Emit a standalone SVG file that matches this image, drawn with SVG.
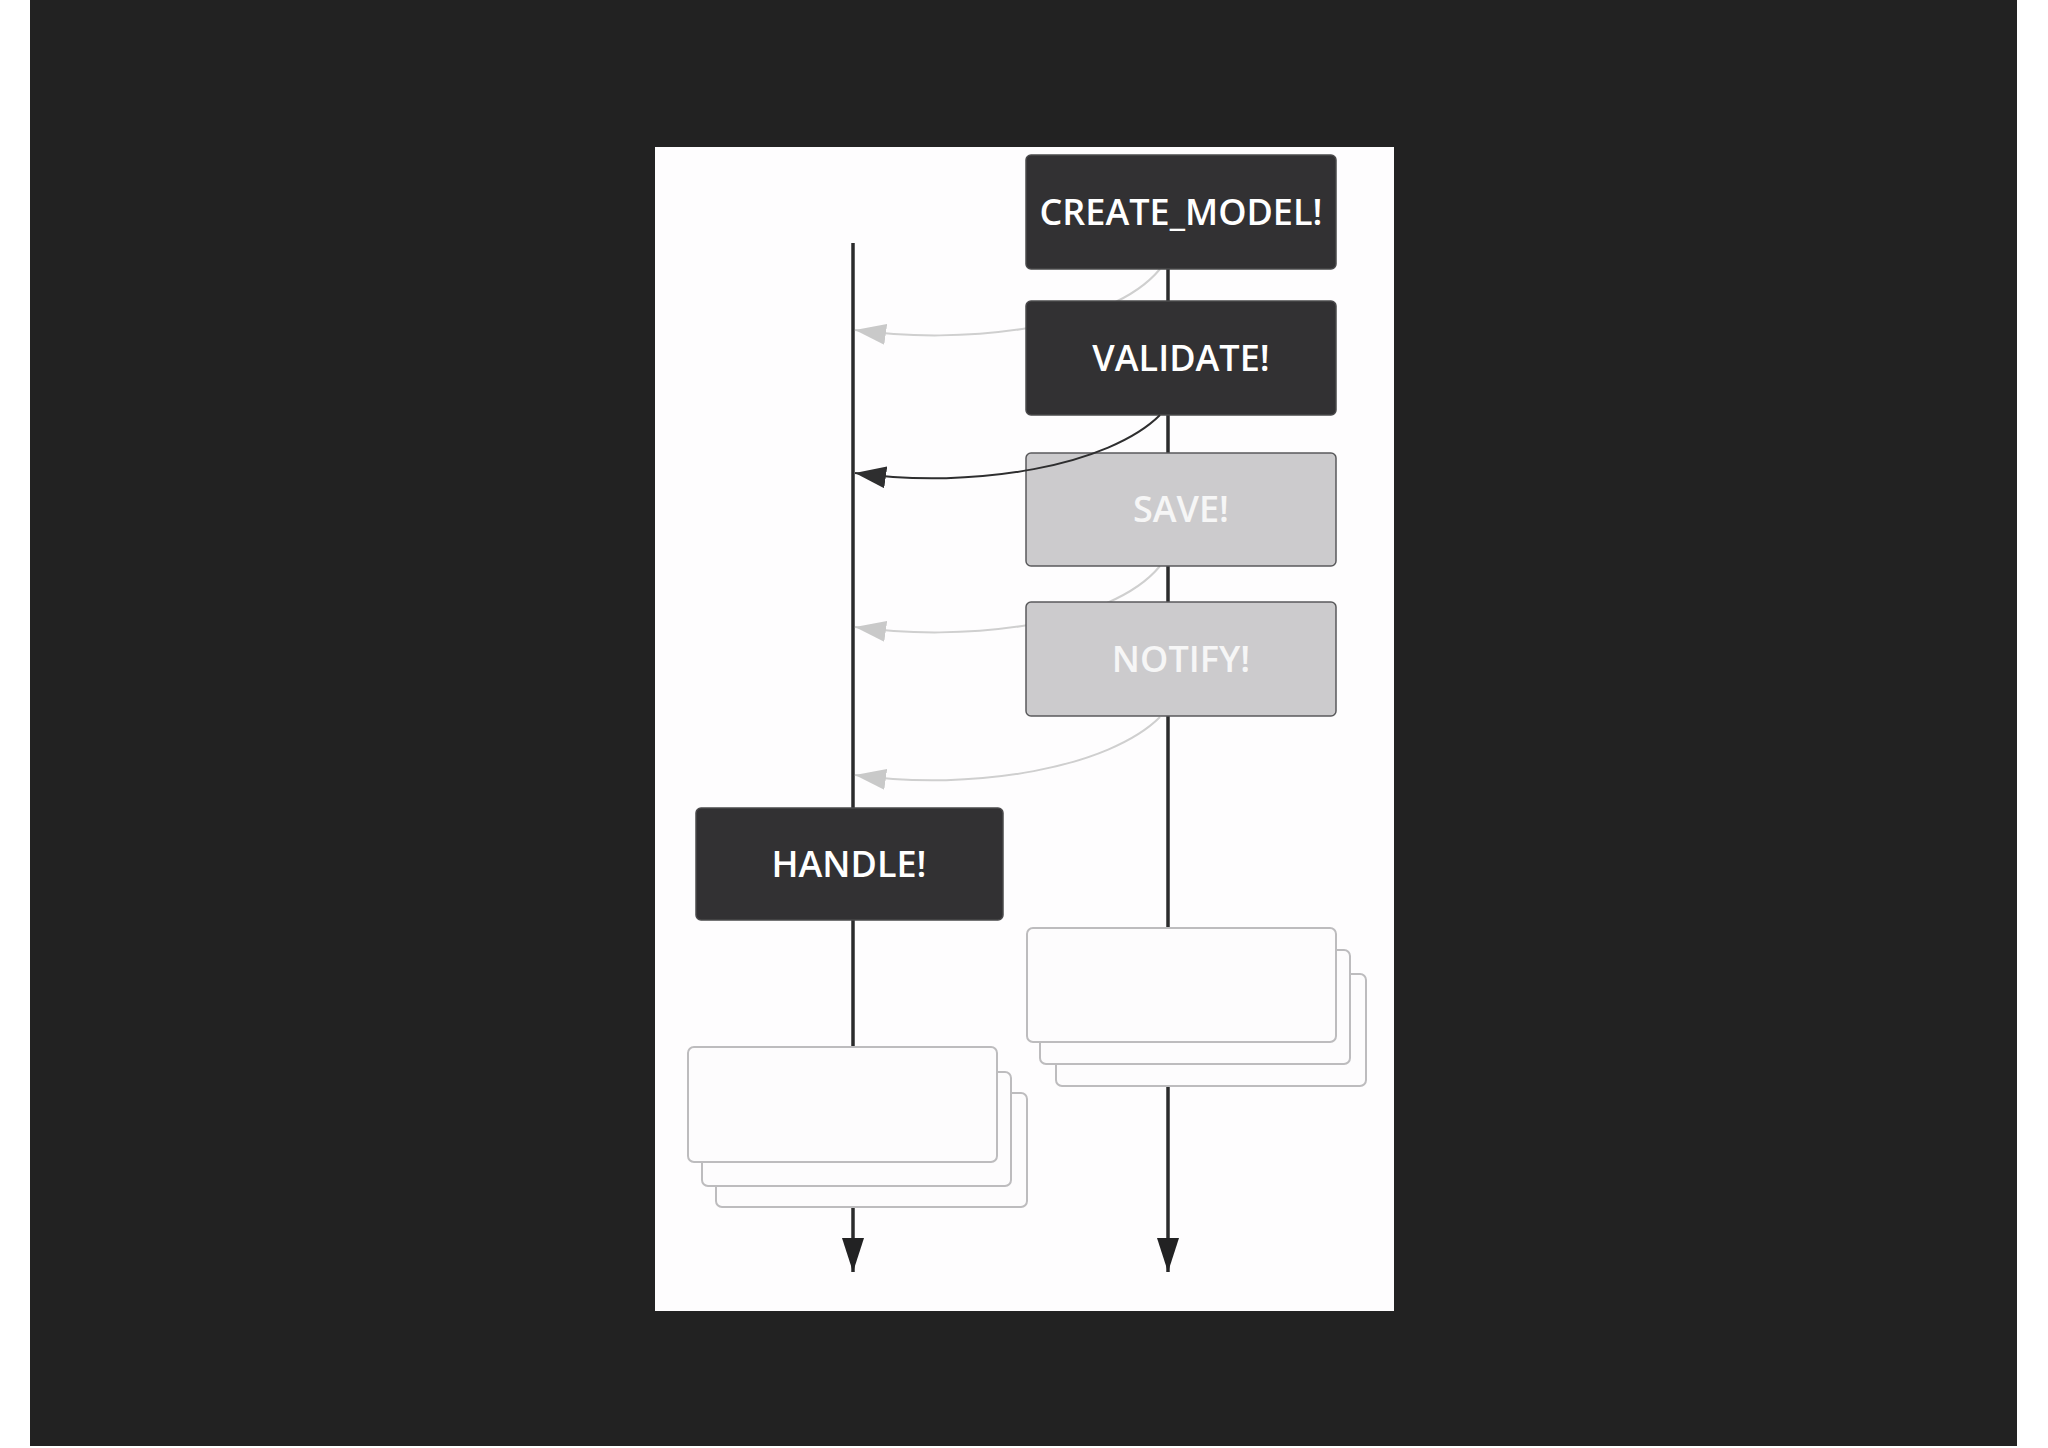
<svg xmlns="http://www.w3.org/2000/svg" width="2048" height="1448" viewBox="0 0 2048 1448">
  <defs>
    <style>
      .dark rect { fill: #323133; stroke: #4a494b; stroke-width: 1.5; }
      .gray rect { fill: #cccbcd; stroke: #5a5a5c; stroke-width: 1.5; }
      .stack rect { fill: #fdfcfd; stroke: #bdbcbe; stroke-width: 2; }
      .lbl { font-family: "Open Sans", "Liberation Sans", sans-serif; font-size: 36px; font-weight: 600; text-anchor: middle; }
      .dark .lbl { fill: #ffffff; }
      .gray .lbl { fill: #f6f6f6; }
      .life { fill: none; stroke: #2b2b2c; stroke-width: 3.5; }
      .ret-light { fill: none; stroke: #cfcfcf; stroke-width: 2; }
      .ret-dark { fill: none; stroke: #2e2e2f; stroke-width: 2; }
    </style>
    <marker id="ah-light" markerUnits="userSpaceOnUse" markerWidth="31" markerHeight="21" refX="31" refY="10.5" orient="auto">
      <path d="M0,0 L31,10.5 L0,21 z" fill="#c9c9c9"/>
    </marker>
    <marker id="ah-dark" markerUnits="userSpaceOnUse" markerWidth="31" markerHeight="22" refX="31" refY="11" orient="auto">
      <path d="M0,0 L31,11 L0,22 z" fill="#2e2e2f"/>
    </marker>
    <marker id="ah-end" markerUnits="userSpaceOnUse" markerWidth="34" markerHeight="22" refX="34" refY="11" orient="auto">
      <path d="M0,0 L34,11 L0,22 z" fill="#222223"/>
    </marker>
  </defs>

  <rect x="0" y="0" width="2048" height="1448" fill="#ffffff"/>
  <rect x="30" y="0" width="1987" height="1446" fill="#222222"/>
  <rect x="655" y="147" width="739" height="1164" fill="#fefdfe"/>

  <g id="lifelines">
    <path class="life" d="M853,243 L853,1272" marker-end="url(#ah-end)"/>
    <path class="life" d="M1168,269 L1168,1272" marker-end="url(#ah-end)"/>
  </g>

  <g id="connectors-back">
    <path class="ret-light" d="M1160,269 C1110,330 960,345 855,330" marker-end="url(#ah-light)"/>
    <path class="ret-light" d="M1160,566 C1110,627 960,642 855,627" marker-end="url(#ah-light)"/>
    <path class="ret-light" d="M1160,717 C1110,767 975,792 855,775" marker-end="url(#ah-light)"/>
  </g>

  <g id="node-create-model" class="dark">
    <rect x="1026" y="155" width="310" height="114" rx="5"/>
    <text class="lbl" x="1181" y="225">CREATE_MODEL!</text>
  </g>
  <g id="node-validate" class="dark">
    <rect x="1026" y="301" width="310" height="114" rx="5"/>
    <text class="lbl" x="1181" y="371">VALIDATE!</text>
  </g>
  <g id="node-save" class="gray">
    <rect x="1026" y="453" width="310" height="113" rx="5"/>
    <text class="lbl" x="1181" y="522">SAVE!</text>
  </g>
  <g id="node-notify" class="gray">
    <rect x="1026" y="602" width="310" height="114" rx="5"/>
    <text class="lbl" x="1181" y="672">NOTIFY!</text>
  </g>
  <g id="node-handle" class="dark">
    <rect x="696" y="808" width="307" height="112" rx="5"/>
    <text class="lbl" x="849" y="877">HANDLE!</text>
  </g>

  <g id="stack-left" class="stack">
    <rect x="716" y="1093" width="311" height="114" rx="6"/>
    <rect x="702" y="1072" width="309" height="114" rx="6"/>
    <rect x="688" y="1047" width="309" height="115" rx="6"/>
  </g>
  <g id="stack-right" class="stack">
    <rect x="1056" y="974" width="310" height="112" rx="6"/>
    <rect x="1040" y="950" width="310" height="114" rx="6"/>
    <rect x="1027" y="928" width="309" height="114" rx="6"/>
  </g>

  <g id="connectors">
    <path class="ret-dark" d="M1160,415 C1110,465 975,490 855,473" marker-end="url(#ah-dark)"/>
  </g>
</svg>
